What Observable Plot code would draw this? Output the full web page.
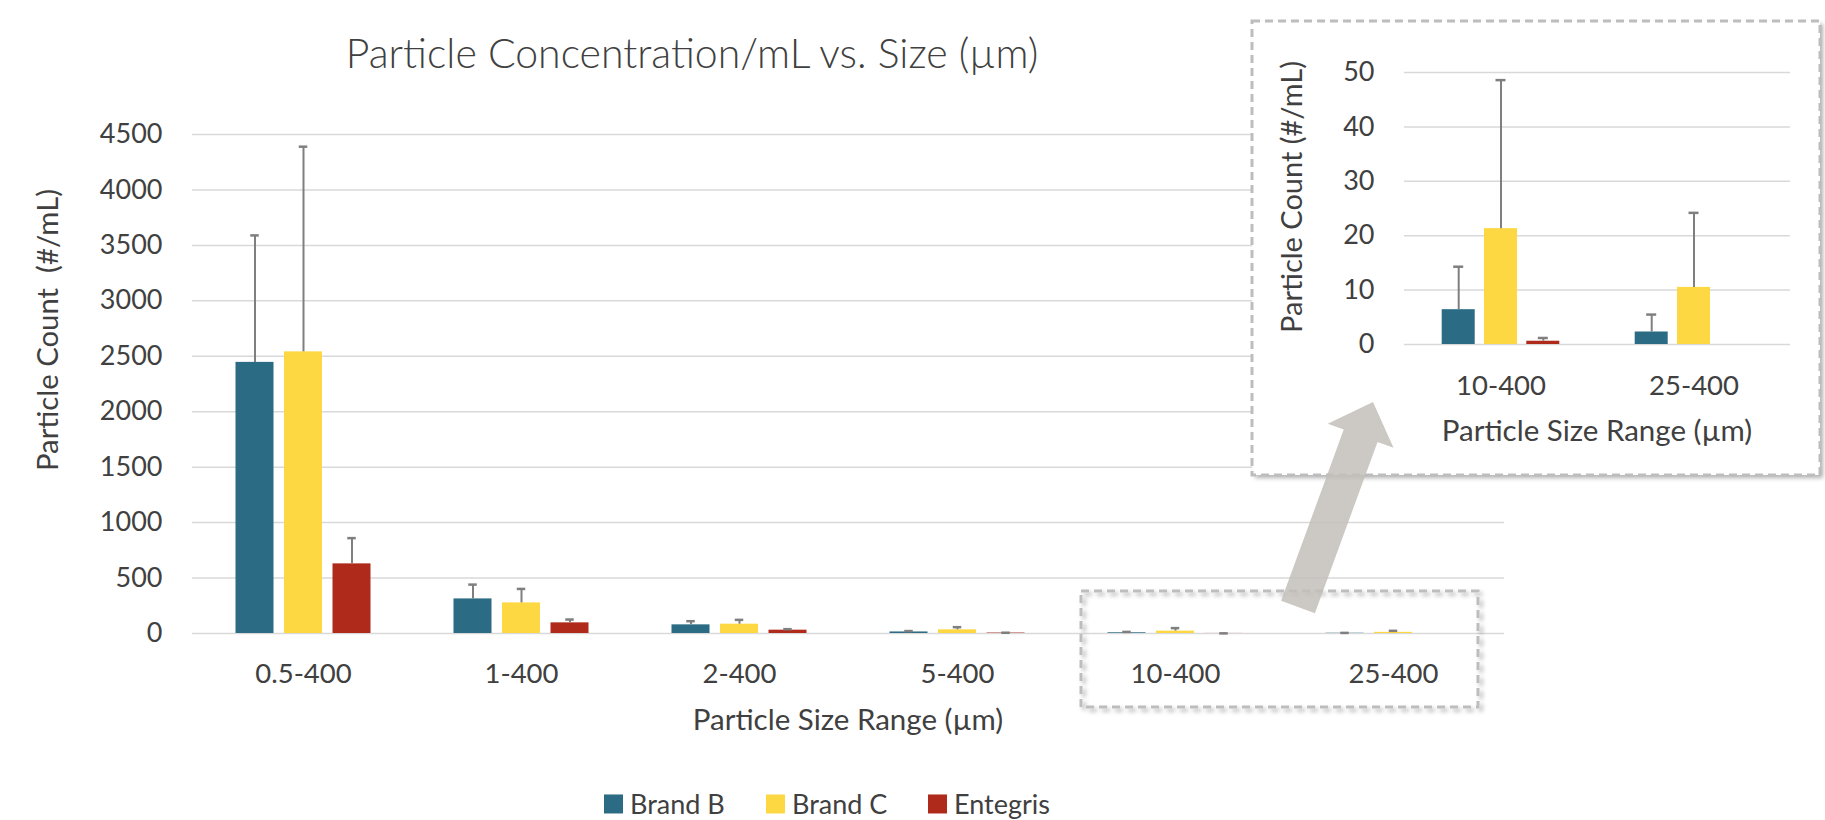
<!DOCTYPE html>
<html>
<head>
<meta charset="utf-8">
<script src="https://cdn.jsdelivr.net/npm/d3@7"></script>
<script src="https://cdn.jsdelivr.net/npm/@observablehq/plot@0.6"></script>
<style>
  html, body { margin: 0; padding: 0; background: #fff; }
  #wrap { position: relative; width: 1825px; height: 820px; overflow: hidden; background: #fff;
          font-family: Lato, "Open Sans", sans-serif; color: #404040; }
  .lbl { position: absolute; white-space: pre; line-height: 1; transform: translate(-50%, -50%); }
  .rot { transform: translate(-50%, -50%) rotate(-90deg); }
  .layer { position: absolute; left: 0; top: 0; }
  #legend { position: absolute; left: 604px; top: 804px; transform: translateY(-50%); display: flex; align-items: center; font-size: 27px; line-height: 1.15; }
  #legend .item { display: flex; align-items: center; width: 162px; }
  #legend .sw { width: 19px; height: 19px; margin-right: 7px; }
</style>
</head>
<body>
<div id="wrap"></div>
<script>
// ---------------- data ----------------
const categories = ["0.5-400", "1-400", "2-400", "5-400", "10-400", "25-400"];
const insetCategories = ["10-400", "25-400"];
const seriesNames = ["Brand B", "Brand C", "Entegris"];
const seriesColors = ["#2b6b83", "#fdd843", "#af2a1b"];

const brandB      = [2445, 312, 78, 14, 6.4, 2.3];
const brandBErr   = [1145, 129, 33, 8, 7.9, 3.2];
const brandC      = [2540, 276, 84, 33, 21.3, 10.5];
const brandCErr   = [1850, 126, 39, 24, 27.3, 13.7];
const entegris    = [628, 96, 30, 4, 0.6, 0];
const entegrisErr = [232, 30, 9, 3, 0.6, 0];

const yTicksMain  = [0, 500, 1000, 1500, 2000, 2500, 3000, 3500, 4000, 4500];
const yTicksInset = [0, 10, 20, 30, 40, 50];

const titleText   = "Particle Concentration/mL vs. Size (\u00b5m)";
const xTitleText  = "Particle Size Range (\u00b5m)";
const yTitleMain  = "Particle Count  (#/mL)";
const yTitleInset = "Particle Count (#/mL)";

// ---------------- table ----------------
const seriesValues = [brandB, brandC, entegris];
const seriesErrors = [brandBErr, brandCErr, entegrisErr];
const table = [];
seriesNames.forEach((name, k) => {
  categories.forEach((cat, i) => {
    table.push({ cat, series: name, value: seriesValues[k][i], err: seriesErrors[k][i] });
  });
});

const FONT = "Lato, 'Open Sans', sans-serif";
const ERR = "#7f7f7f";
const plain = d => String(d);

function groupMarks(rows, step, capInset) {
  const marks = [];
  seriesNames.forEach((name, k) => {
    const dx = (k - 1) * step;
    const r = rows.filter(d => d.series === name && d.value > 0);
    const e = r.filter(d => d.err > 0);
    marks.push(Plot.barY(r, { x: "cat", y: "value", fill: seriesColors[k], dx }));
    marks.push(Plot.ruleX(e, { x: "cat", y1: "value", y2: d => d.value + d.err, stroke: ERR, strokeWidth: 2, dx }));
    marks.push(Plot.tickY(e, { x: "cat", y: d => d.value + d.err, stroke: ERR, strokeWidth: 2.5, dx,
                               insetLeft: capInset, insetRight: capInset }));
  });
  return marks;
}

const wrap = document.getElementById("wrap");

// ---------------- main chart ----------------
const main = Plot.plot({
  width: 1825, height: 690,
  marginLeft: 192, marginRight: 321, marginTop: 134, marginBottom: 57,
  style: { background: "transparent", color: "#404040", fontFamily: FONT, overflow: "visible" },
  x: { domain: categories, paddingInner: 0.824, paddingOuter: 0.412, label: null },
  y: { domain: [0, 4500], label: null },
  marks: [
    Plot.gridY(yTicksMain, { stroke: "#d9d9d9", strokeOpacity: 1, strokeWidth: 1.5 }),
    Plot.axisY(yTicksMain, { tickSize: 0, tickPadding: 30, fontSize: 27, label: null, tickFormat: plain }),
    Plot.axisX({ tickSize: 0, tickPadding: 30, fontSize: 27.5, label: null }),
    ...groupMarks(table, 48.5, 14.75)
  ]
});
main.classList.add("layer");
main.style.maxWidth = "none";
wrap.appendChild(main);

// ---------------- decoration boxes ----------------
const deco = d3.create("svg").attr("class", "layer").attr("width", 1825).attr("height", 820);
const defs = deco.append("defs");
const f = defs.append("filter").attr("id", "shadow").attr("x", "-10%").attr("y", "-10%").attr("width", "130%").attr("height", "130%");
f.append("feDropShadow").attr("dx", 3).attr("dy", 3).attr("stdDeviation", 2)
  .attr("flood-color", "#000").attr("flood-opacity", 0.3);
// small dashed box around 10-400 / 25-400 in main chart
deco.append("rect").attr("x", 1081).attr("y", 591).attr("width", 397).attr("height", 116)
  .attr("fill", "none").attr("stroke", "#bdbdbd").attr("stroke-width", 3)
  .attr("stroke-dasharray", "8 5").attr("filter", "url(#shadow)");
// inset box
deco.append("rect").attr("x", 1252).attr("y", 21).attr("width", 568).attr("height", 454)
  .attr("fill", "#fff").attr("filter", "url(#shadow)");
deco.append("rect").attr("x", 1252).attr("y", 21).attr("width", 568).attr("height", 454)
  .attr("fill", "#fff").attr("stroke", "#bdbdbd").attr("stroke-width", 3)
  .attr("stroke-dasharray", "8 5");
wrap.appendChild(deco.node());

// ---------------- inset chart ----------------
const insetRows = table.filter(d => insetCategories.includes(d.cat));
const inset = Plot.plot({
  width: 568, height: 454,
  marginLeft: 152, marginRight: 30, marginTop: 51, marginBottom: 131,
  style: { background: "transparent", color: "#404040", fontFamily: FONT, overflow: "visible" },
  x: { domain: insetCategories, paddingInner: 0.828, paddingOuter: 0.414, label: null },
  y: { domain: [0, 50], label: null },
  marks: [
    Plot.gridY(yTicksInset, { stroke: "#d9d9d9", strokeOpacity: 1, strokeWidth: 1.5 }),
    Plot.axisY(yTicksInset, { tickSize: 0, tickPadding: 30, fontSize: 27, label: null, tickFormat: plain }),
    Plot.axisX({ tickSize: 0, tickPadding: 31, fontSize: 27.5, label: null }),
    ...groupMarks(insetRows, 42.3, 11.5)
  ]
});
inset.classList.add("layer");
inset.style.left = "1252px";
inset.style.top = "21px";
inset.style.maxWidth = "none";
wrap.appendChild(inset);

// ---------------- arrow ----------------
const arrow = d3.create("svg").attr("class", "layer").attr("width", 1825).attr("height", 820)
  .style("pointer-events", "none");
(function () {
  const B = [1298, 607], T = [1373, 402];
  const L = Math.hypot(T[0] - B[0], T[1] - B[1]);
  const u = [(T[0] - B[0]) / L, (T[1] - B[1]) / L];
  const n = [-u[1], u[0]];
  const headLen = 36, sh = 18, hh = 35;
  const H = [T[0] - u[0] * headLen, T[1] - u[1] * headLen];
  const p = (P, s) => [P[0] + n[0] * s, P[1] + n[1] * s];
  const pts = [p(B, sh), p(H, sh), p(H, hh), T, p(H, -hh), p(H, -sh), p(B, -sh)];
  arrow.append("polygon").attr("points", pts.map(q => q.join(",")).join(" "))
    .attr("fill", "#c3c0ba").attr("fill-opacity", 0.85);
})();
wrap.appendChild(arrow.node());

// ---------------- text ----------------
function label(text, x, y, size, rotate, weight) {
  const d = document.createElement("div");
  d.className = "lbl" + (rotate ? " rot" : "");
  d.style.left = x + "px"; d.style.top = y + "px"; d.style.fontSize = size + "px";
  if (weight) d.style.fontWeight = weight;
  d.textContent = text;
  wrap.appendChild(d);
}
label(titleText, 692, 52, 41, false, 300);
label(xTitleText, 848, 719, 29.5, false);
label(yTitleMain, 47, 330, 29.3, true);
label(yTitleInset, 1290, 197, 29, true);
label(xTitleText, 1597, 430, 29.5, false);

// ---------------- legend ----------------
const legend = document.createElement("div");
legend.id = "legend";
seriesNames.forEach((name, k) => {
  const it = document.createElement("div"); it.className = "item";
  const sw = document.createElement("div"); sw.className = "sw"; sw.style.background = seriesColors[k];
  const tx = document.createElement("span"); tx.textContent = name;
  it.appendChild(sw); it.appendChild(tx); legend.appendChild(it);
});
wrap.appendChild(legend);
</script>
</body>
</html>
